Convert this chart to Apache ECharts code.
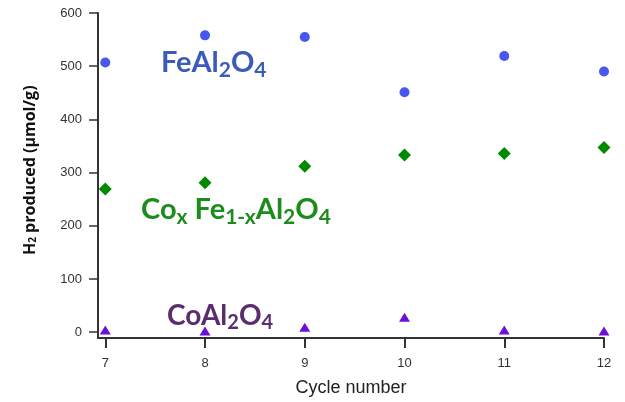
<!DOCTYPE html>
<html>
<head>
<meta charset="utf-8">
<script src="https://cdn.jsdelivr.net/npm/echarts@6/dist/echarts.min.js"></script>
<style>html,body{margin:0;padding:0;background:#fff}#c{width:625px;height:402px}</style>
</head>
<body>
<div id="c"></div>
<script>
const cycles = [7, 8, 9, 10, 11, 12];
const feAl2O4 = [507, 558, 555, 451, 519, 490];
const coFeAl2O4 = [269, 281, 312, 333, 336, 347];
const coAl2O4 = [4, 2, 9, 28, 4, 2];
const yTicks = [0, 100, 200, 300, 400, 500, 600];

const pair = arr => arr.map((v, i) => [cycles[i], v]);

const chart = echarts.init(document.getElementById('c'), null, {renderer: 'canvas'});

function formula(color, size) {
  const sub = Math.round(size * 0.73);
  return {
    m: {fontFamily: 'Lato', fontWeight: 'bold', fontSize: size, lineHeight: size, verticalAlign: 'top', fill: color},
    s: {fontFamily: 'Lato', fontWeight: 'bold', fontSize: sub, lineHeight: Math.round(size * 1.5), verticalAlign: 'middle', fill: color}
  };
}

chart.setOption({
  animation: false,
  grid: {left: 98, right: 21, top: 13, bottom: 59, containLabel: false},
  xAxis: {
    type: 'value', min: 6.927, max: 12,
    name: 'Cycle number', nameLocation: 'middle', nameGap: 41,
    nameTextStyle: {fontFamily: 'Liberation Sans', fontSize: 18, color: '#222'},
    axisLine: {show: true, onZero: false, lineStyle: {color: '#333', width: 2}},
    axisTick: {show: true, length: 10, lineStyle: {color: '#333', width: 2}, customValues: cycles},
    axisLabel: {fontFamily: 'Liberation Sans', fontSize: 13, color: '#333', margin: 19, customValues: cycles},
    splitLine: {show: false}
  },
  yAxis: {
    type: 'value', min: -11, max: 600,
    axisLine: {show: true, onZero: false, lineStyle: {color: '#333', width: 2}},
    axisTick: {show: true, length: 9, lineStyle: {color: '#333', width: 1.5}, customValues: yTicks},
    axisLabel: {fontFamily: 'Liberation Sans', fontSize: 13, color: '#333', margin: 16, customValues: yTicks},
    splitLine: {show: false}
  },
  series: [
    {type: 'scatter', data: pair(feAl2O4), symbol: 'circle', symbolSize: 10, itemStyle: {color: '#4757f0', opacity: 1}},
    {type: 'scatter', data: pair(coFeAl2O4), symbol: 'diamond', symbolSize: 13, itemStyle: {color: '#008a00', opacity: 1}},
    {type: 'scatter', data: pair(coAl2O4), symbol: 'triangle', symbolSize: [11, 9], itemStyle: {color: '#6a10d8', opacity: 1}}
  ],
  graphic: [
    {type: 'text', left: 161, top: 48, style: {text: '{m|FeAl}{s|2}{m|O}{s|4}', rich: formula('#3a5cb8', 29)}},
    {type: 'text', left: 141, top: 195, style: {text: '{m|Co}{s|x}{m| Fe}{s|1-x}{m|Al}{s|2}{m|O}{s|4}', rich: formula('#1c8c1c', 29)}},
    {type: 'text', left: 167, top: 302, style: {text: '{m|CoAl}{s|2}{m|O}{s|4}', rich: formula('#5c2d6e', 28)}},
    {type: 'text', x: 22, y: 255, rotation: Math.PI / 2, style: {
      text: '{a|H}{b|2}{a| produced (µmol/g)}',
      rich: {
        a: {fontFamily: 'Open Sans', fontWeight: 'bold', fontSize: 16, lineHeight: 16, verticalAlign: 'top', fill: '#111'},
        b: {fontFamily: 'Open Sans', fontWeight: 'bold', fontSize: 10, lineHeight: 23, verticalAlign: 'middle', fill: '#111'}
      }
    }}
  ]
});
</script>
</body>
</html>
